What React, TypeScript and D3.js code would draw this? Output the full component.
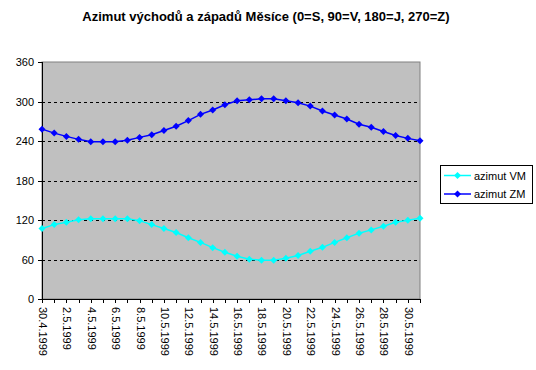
import React from "react";
import * as d3 from "d3";

const dates: string[] = [
  "30.4.1999","1.5.1999","2.5.1999","3.5.1999","4.5.1999","5.5.1999","6.5.1999","7.5.1999",
  "8.5.1999","9.5.1999","10.5.1999","11.5.1999","12.5.1999","13.5.1999","14.5.1999","15.5.1999",
  "16.5.1999","17.5.1999","18.5.1999","19.5.1999","20.5.1999","21.5.1999","22.5.1999","23.5.1999",
  "24.5.1999","25.5.1999","26.5.1999","27.5.1999","28.5.1999","29.5.1999","30.5.1999","31.5.1999",
];
const azimutVM: number[] = [
  107, 113, 116.5, 120.5, 122, 122, 122, 122, 119, 113, 107, 101, 93, 86, 78, 71,
  65, 60.5, 59, 59, 62, 66, 72.5, 78.5, 86, 93, 100, 105, 110.5, 116.5, 119.5, 122.5,
];
const azimutZM: number[] = [
  258, 252, 247, 242.5, 239, 239, 239, 241, 245.5, 249.5, 256, 262.5, 271, 280.5, 287, 295,
  301, 302.5, 304, 304, 301, 298, 293, 285.5, 279.5, 273.5, 265.5, 261, 254.5, 248.5, 244, 240.5,
];
const yTicks: number[] = [0, 60, 120, 180, 240, 300, 360];
const seriesNames: string[] = ["azimut VM", "azimut ZM"];
const seriesColors: string[] = ["#00FFFF", "#0000FF"];

const font = "'Liberation Sans', Arial, sans-serif";

export default function App() {
  const W = 536, H = 370;
  const left = 42, right = 420, top = 62, bottom = 299;
  const x = d3.scalePoint<string>().domain(dates).range([left, right]);
  const y = d3.scaleLinear().domain([0, 360]).range([bottom, top]);
  const line = d3.line<number>().x((_, i) => x(dates[i]) as number).y((d) => y(d));
  const diamond = (cx: number, cy: number, r = 3.5) =>
    `M${cx},${cy - r}L${cx + r},${cy}L${cx},${cy + r}L${cx - r},${cy}Z`;
  const series = [azimutVM, azimutZM];

  return (
    <svg width={W} height={H} style={{ position: "absolute", left: 0, top: 0, background: "#fff" }}>
      <text x={266} y={21} textAnchor="middle" fontFamily={font} fontWeight="bold" fontSize={13}>
        Azimut východů a západů Měsíce (0=S, 90=V, 180=J, 270=Z)
      </text>
      <rect x={left} y={top} width={right - left} height={bottom - top} fill="#C0C0C0" stroke="#808080" strokeWidth={1} />
      {yTicks.filter((t) => t > 0 && t < 360).map((t) => (
        <line key={t} x1={left} x2={right} y1={Math.round(y(t)) + 0.5} y2={Math.round(y(t)) + 0.5}
          stroke="#000" strokeDasharray="3,3" strokeWidth={1} />
      ))}
      <line x1={left + 0.5} x2={left + 0.5} y1={top} y2={bottom} stroke="#000" />
      <line x1={left} x2={right + 1} y1={bottom + 0.5} y2={bottom + 0.5} stroke="#000" />
      {yTicks.map((t) => (
        <g key={t}>
          <line x1={left - 4} x2={left} y1={Math.round(y(t)) + 0.5} y2={Math.round(y(t)) + 0.5} stroke="#000" />
          <text x={34} y={y(t) + 4} textAnchor="end" fontFamily={font} fontSize={11}>{t}</text>
        </g>
      ))}
      {dates.map((d, i) => {
        const px = Math.round(x(d) as number) + 0.5;
        return (
          <g key={d}>
            <line x1={px} x2={px} y1={bottom} y2={bottom + 4} stroke="#000" />
            {i % 2 === 0 && (
              <text transform={`translate(${px - 4},${bottom + 8}) rotate(90)`} fontFamily={font} fontSize={11}>
                {d}
              </text>
            )}
          </g>
        );
      })}
      {series.map((s, si) => (
        <g key={si}>
          <path d={line(s) || ""} fill="none" stroke={seriesColors[si]} strokeWidth={1.5} />
          {s.map((v, i) => (
            <path key={i} d={diamond(x(dates[i]) as number, y(v))} fill={seriesColors[si]} />
          ))}
        </g>
      ))}
      <rect x={440.5} y={165.5} width={92} height={38} fill="#fff" stroke="#000" />
      {seriesNames.map((n, i) => {
        const ly = 175.5 + i * 18.5;
        return (
          <g key={n}>
            <line x1={444} x2={471} y1={ly} y2={ly} stroke={seriesColors[i]} strokeWidth={1.5} />
            <path d={diamond(457.5, ly)} fill={seriesColors[i]} />
            <text x={474} y={ly + 4} fontFamily={font} fontSize={11}>{n}</text>
          </g>
        );
      })}
    </svg>
  );
}
